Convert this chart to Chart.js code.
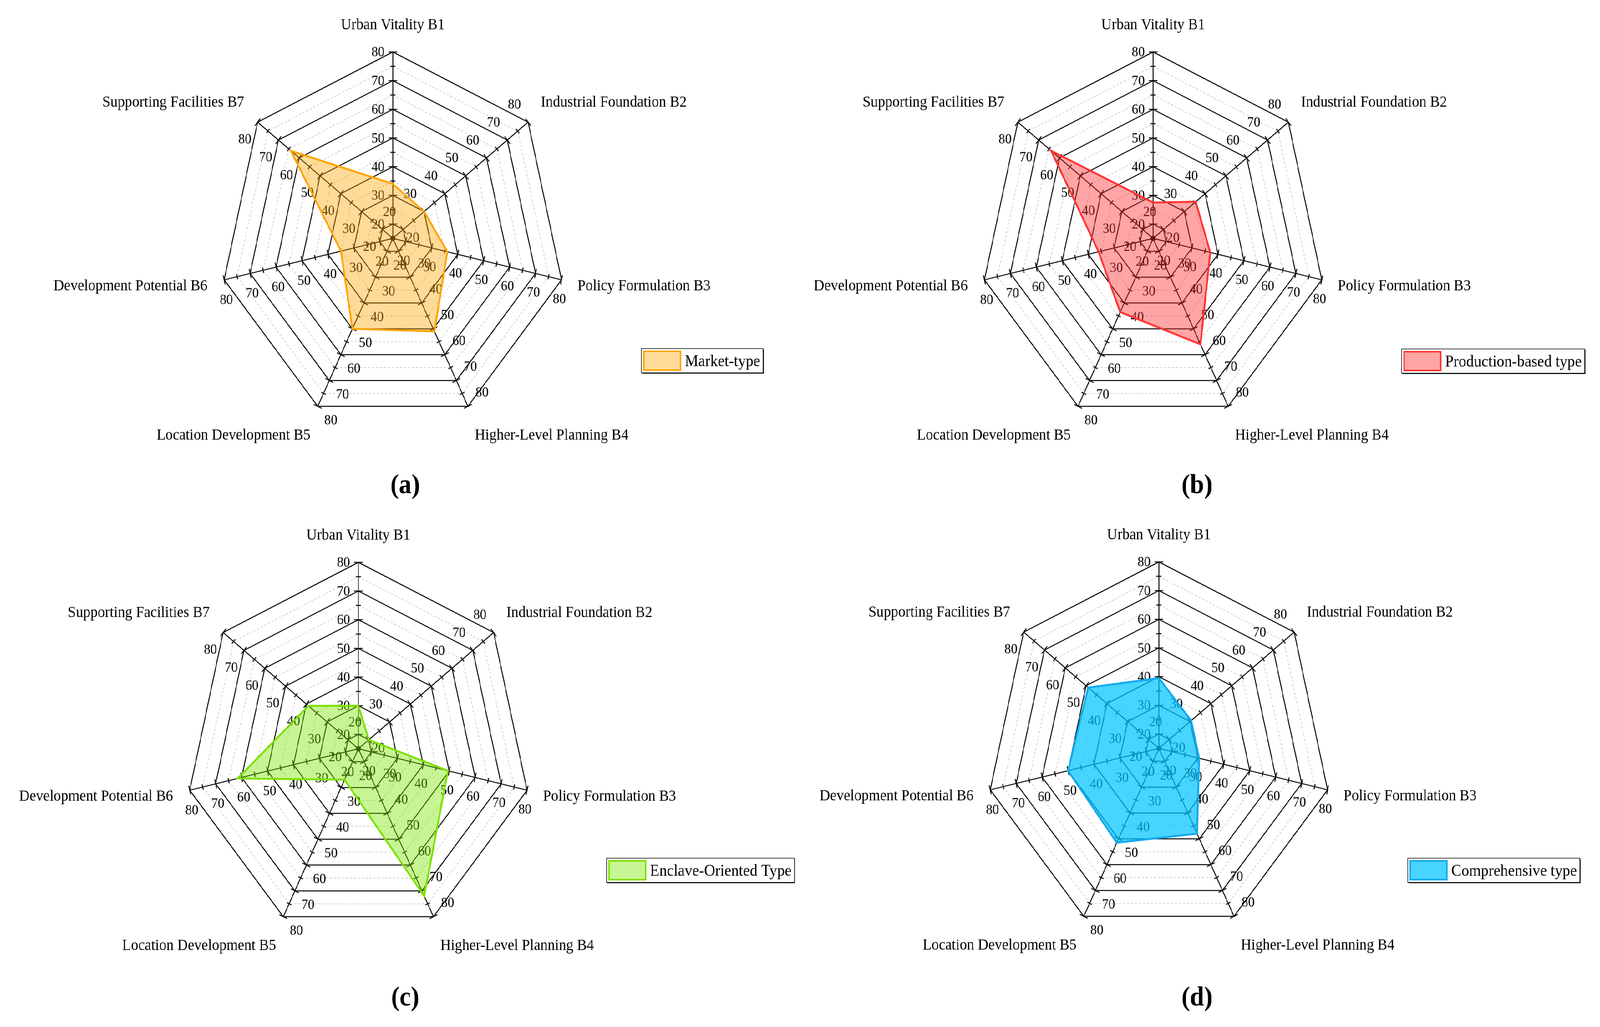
<!DOCTYPE html>
<html>
<head>
<meta charset="utf-8">
<script src="https://cdn.jsdelivr.net/npm/chart.js@4/dist/chart.umd.min.js"></script>
<style>
	html, body { margin: 0; padding: 0; background: #fff; overflow: hidden; }
	#page { position: absolute; left: 0; top: 0; width: 4411px; height: 2628px; transform-origin: 0 0; }
	#page canvas { position: absolute; left: 0; top: 0; }
</style>
</head>
<body>
<div id="page">
<canvas id="chart-a" width="4411" height="2628"></canvas>
<canvas id="chart-b" width="4411" height="2628"></canvas>
<canvas id="chart-c" width="4411" height="2628"></canvas>
<canvas id="chart-d" width="4411" height="2628"></canvas>
</div>
<script>
const kAxes = ["Urban Vitality B1", "Industrial Foundation B2", "Policy Formulation B3", "Higher-Level Planning B4",
	"Location Development B5", "Development Potential B6", "Supporting Facilities B7"];
const kTickLabels = [20, 30, 40, 50, 60, 70, 80];

const kMarket = [34, 30, 36, 51, 50, 35, 64];
const kProduction = [27.5, 35.5, 37, 56, 43.5, 36, 64];
const kEnclave = [30, 20, 49.5, 72, 27, 61.5, 39];
const kComprehensive = [39.5, 30.5, 30.5, 48, 51.5, 50, 49];

const kSeriesNames = ["Market-type", "Production-based type", "Enclave-Oriented Type", "Comprehensive type"];
const kCaptions = ["(a)", "(b)", "(c)", "(d)"];

const kWidth = 4411;
const kHeight = 2628;
const kRadius = 477;
const kFont = "'Liberation Serif', 'Times New Roman', serif";

// where each panel sits on the page
const kPanels = [
	{id: "chart-a", data: kMarket, cx: 1083, cy: 610, legend: [1768, 892], caption: [1117, 1262],
		line: "#ffa500", fill: "rgba(255,165,0,0.4)"},
	{id: "chart-b", data: kProduction, cx: 3179, cy: 610, legend: [3864, 893], caption: [3300, 1262],
		line: "#ff3535", fill: "rgba(255,40,40,0.42)"},
	{id: "chart-c", data: kEnclave, cx: 988, cy: 1916, legend: [1672, 2196], caption: [1117, 2573],
		line: "#7de000", fill: "rgba(125,230,0,0.42)"},
	{id: "chart-d", data: kComprehensive, cx: 3195, cy: 1915, legend: [3881, 2196], caption: [3300, 2573],
		line: "#12a9ee", fill: "rgba(0,195,255,0.72)"}
];

// offset of each axis's tick labels from the tick point
const kTickLabelOffsets = [[-41, 2], [-38, -44], [-6, 50], [39, -34], [36, 37], [6, 52], [-35, 45]];
// axis titles relative to the end of each axis
const kTitleOffsets = [
	{dx: 0, dy: -58, align: "center"},
	{dx: 35, dy: -40, align: "left"},
	{dx: 44, dy: 27, align: "left"},
	{dx: 19, dy: 85, align: "left"},
	{dx: -20, dy: 85, align: "right"},
	{dx: -46, dy: 27, align: "right"},
	{dx: -37, dy: -40, align: "right"}
];

// the window may be narrower than 4411, so fit the page into it
const sx = window.innerWidth / kWidth;
const sy = window.innerHeight / kHeight;
document.getElementById("page").style.transform = `scale(${sx}, ${sy})`;

const decorPlugin = {
	id: "radarDecor",
	beforeDatasetsDraw(chart) {
		const ctx = chart.ctx;
		const r = chart.scales.r;
		const n = chart.data.labels.length;

		// dashed minor rings
		ctx.save();
		ctx.strokeStyle = "#c4c4c4";
		ctx.lineWidth = 1.6;
		ctx.setLineDash([6, 5]);
		for (let v = 25; v < 80; v += 10) {
			ctx.beginPath();
			for (let i = 0; i < n; ++i) {
				const p = r.getPointPositionForValue(i, v);
				if (i === 0) ctx.moveTo(p.x, p.y); else ctx.lineTo(p.x, p.y);
			}
			ctx.closePath();
			ctx.stroke();
		}
		ctx.restore();

		// tick marks across every axis
		ctx.save();
		ctx.strokeStyle = "#000";
		ctx.lineWidth = 2.5;
		for (let i = 0; i < n; ++i) {
			const a = r.getIndexAngle(i) - Math.PI / 2;
			const nx = -Math.sin(a), ny = Math.cos(a);
			for (let v = 15; v <= 80; v += 5) {
				const p = r.getPointPositionForValue(i, v);
				const h = v % 10 === 0 ? 12 : 7;
				ctx.beginPath();
				ctx.moveTo(p.x - nx * h, p.y - ny * h);
				ctx.lineTo(p.x + nx * h, p.y + ny * h);
				ctx.stroke();
			}
		}
		ctx.restore();

		// tick labels on every axis
		ctx.save();
		ctx.fillStyle = "#000";
		ctx.font = `36px ${kFont}`;
		ctx.textAlign = "center";
		ctx.textBaseline = "middle";
		for (let i = 0; i < n; ++i) {
			const [dx, dy] = kTickLabelOffsets[i];
			for (const t of kTickLabels) {
				const p = r.getPointPositionForValue(i, t);
				ctx.fillText(String(t), p.x + dx, p.y + dy);
			}
		}
		ctx.restore();
	},
	afterDraw(chart, args, opts) {
		const ctx = chart.ctx;
		const r = chart.scales.r;
		const ds = chart.data.datasets[0];

		// axis titles
		ctx.save();
		ctx.fillStyle = "#000";
		ctx.font = `40px ${kFont}`;
		ctx.textBaseline = "alphabetic";
		chart.data.labels.forEach((label, i) => {
			const p = r.getPointPositionForValue(i, r.max);
			const o = kTitleOffsets[i];
			ctx.textAlign = o.align;
			ctx.fillText(label, p.x + o.dx, p.y + o.dy);
		});
		ctx.restore();

		// legend box
		const [lx, ly] = opts.legend;
		ctx.save();
		ctx.font = `42px ${kFont}`;
		const tw = ctx.measureText(ds.label).width;
		const bw = 5 + 105 + 10 + tw + 8;
		const bh = 62;
		ctx.fillStyle = "#fff";
		ctx.fillRect(lx, ly, bw, bh);
		ctx.fillStyle = "#000";
		ctx.fillRect(lx + 2, ly + bh, bw, 2);
		ctx.fillRect(lx + bw, ly + 2, 2, bh);
		ctx.strokeStyle = "#000";
		ctx.lineWidth = 1.5;
		ctx.strokeRect(lx, ly, bw, bh);
		ctx.fillStyle = ds.backgroundColor;
		ctx.fillRect(lx + 5, ly + 5, 105, bh - 10);
		ctx.strokeStyle = ds.borderColor;
		ctx.lineWidth = 4;
		ctx.strokeRect(lx + 7, ly + 7, 101, bh - 14);
		ctx.fillStyle = "#000";
		ctx.textAlign = "left";
		ctx.textBaseline = "alphabetic";
		ctx.fillText(ds.label, lx + 120, ly + 45);
		ctx.restore();

		// panel caption
		ctx.save();
		ctx.fillStyle = "#000";
		ctx.font = `bold 70px ${kFont}`;
		ctx.textAlign = "center";
		ctx.textBaseline = "alphabetic";
		ctx.fillText(opts.caption, opts.captionPos[0], opts.captionPos[1]);
		ctx.restore();
	}
};

function renderPanel(panel, index) {
	const context = document.getElementById(panel.id).getContext("2d");

	return new Chart(context, {
		type: "radar",
		data: {
			labels: kAxes,
			datasets: [{
				label: kSeriesNames[index],
				data: panel.data,
				borderColor: panel.line,
				backgroundColor: panel.fill,
				borderWidth: 5,
				borderJoinStyle: "miter",
				pointRadius: 0,
				fill: true,
				tension: 0
			}]
		},
		options: {
			responsive: false,
			animation: false,
			devicePixelRatio: 1,
			layout: {
				padding: {
					left: panel.cx - kRadius,
					top: panel.cy - kRadius,
					right: kWidth - panel.cx - kRadius,
					bottom: kHeight - panel.cy - kRadius
				}
			},
			plugins: {
				legend: {display: false},
				tooltip: {enabled: false},
				radarDecor: {legend: panel.legend, caption: kCaptions[index], captionPos: panel.caption}
			},
			scales: {
				r: {
					min: 15,
					max: 80,
					beginAtZero: false,
					ticks: {stepSize: 5, display: false},
					pointLabels: {display: false},
					angleLines: {color: "#000", lineWidth: 2.5},
					grid: {
						// solid rings at every 10, minor rings drawn dashed by the plugin
						color: (c) => (c.tick && c.tick.value % 10 === 0) ? "#000" : "rgba(0,0,0,0)",
						lineWidth: 2.5
					}
				}
			}
		},
		plugins: [decorPlugin]
	});
}

kPanels.forEach((p, i) => renderPanel(p, i));
</script>
</body>
</html>
